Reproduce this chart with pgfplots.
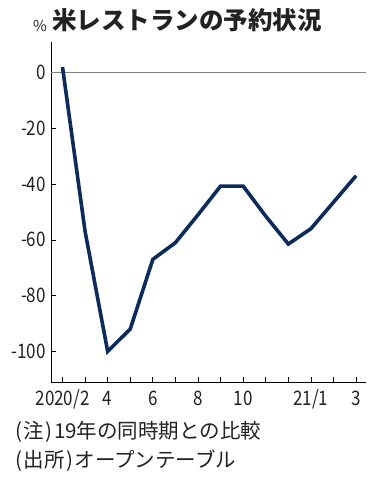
\documentclass[border=0pt]{standalone}
\usepackage{fontspec}
\setmainfont{Noto Sans CJK JP}
\newfontfamily\tickfont[FakeStretch=0.85]{Noto Sans CJK JP}
\usepackage{pgfplots}
\pgfplotsset{compat=1.18}
\definecolor{navy}{HTML}{0B2B5B}
\definecolor{txt}{HTML}{222222}
\begin{document}
\begin{tikzpicture}
\useasboundingbox (-51pt,-96pt) rectangle (326pt,382pt);
\begin{axis}[
 at={(0pt,0pt)}, anchor=south west,
 scale only axis, width=315pt, height=340pt,
 xmin=-0.51, xmax=13.44, ymin=-111, ymax=11,
 axis x line*=bottom, axis y line*=left,
 axis line style={black, line width=0.8pt},
 xtick={0,...,13},
 xticklabels={2020/2,{},4,{},6,{},8,{},10,{},{},21/1,{},3},
 ytick={-100,-80,-60,-40,-20,0},
 tick align=inside, major tick length=5pt,
 tick style={black, line width=0.7pt},
 /pgf/number format/assume math mode=true,
 ticklabel style={font=\tickfont\fontsize{20}{24}\selectfont, text=txt, inner sep=0pt},
 xticklabel style={anchor=base, yshift=-23.3pt},
 yticklabel style={anchor=east, xshift=-5pt},
 clip=false,
]
\addplot[gray, line width=0.8pt] coordinates {(-0.51,0) (13.44,0)};
\addplot[navy, line width=3.6pt] coordinates {
(0,2) (1,-57) (2,-100) (3,-92) (4,-67) (5,-61) (6,-51) (7,-40.7) (8,-40.7) (9,-51.5) (10,-61.5) (11,-56) (12,-46.5) (13,-37)};
\end{axis}
\node[anchor=base west, inner sep=0pt, text=txt, font=\bfseries\fontsize{24.5}{28}\selectfont] at (1pt,352.7pt) {米レストランの予約状況};
\node[anchor=center, inner sep=0pt, text=txt, font=\fontsize{15}{18}\selectfont] at (-11pt,355.5pt) {\%};
\node[anchor=base west, inner sep=0pt, text=txt, font=\fontsize{20.5}{24}\selectfont] at (-36pt,-56.5pt) {(\kern1.5pt注\kern1.5pt)\kern1.5pt19年の同時期との比較};
\node[anchor=base west, inner sep=0pt, text=txt, font=\fontsize{20.5}{24}\selectfont] at (-36pt,-85pt) {(\kern1.5pt出所\kern1.5pt)\kern1.5ptオープンテーブル};
\end{tikzpicture}
\end{document}
